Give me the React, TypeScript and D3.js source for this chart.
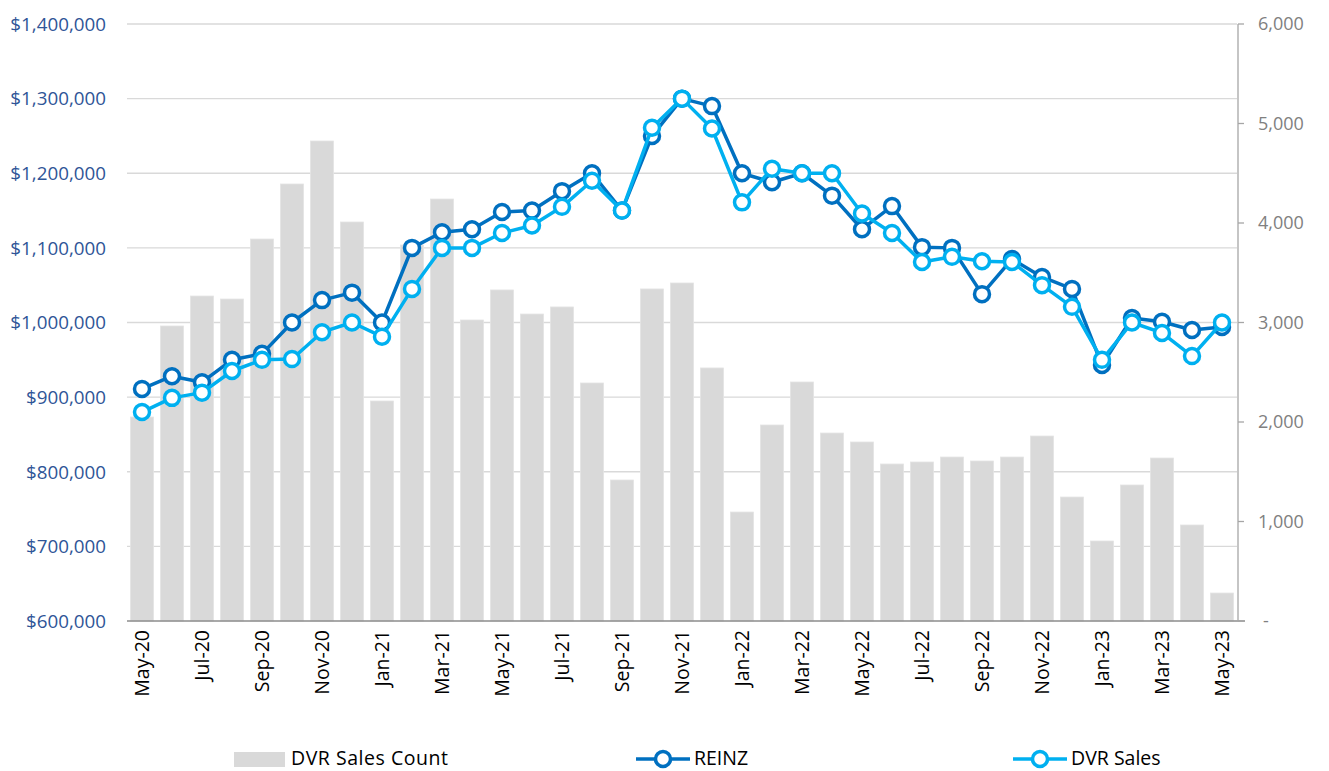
import React from 'react';
import * as d3 from 'd3';

const months = [
  'May-20', 'Jun-20', 'Jul-20', 'Aug-20', 'Sep-20', 'Oct-20', 'Nov-20', 'Dec-20',
  'Jan-21', 'Feb-21', 'Mar-21', 'Apr-21', 'May-21', 'Jun-21', 'Jul-21', 'Aug-21',
  'Sep-21', 'Oct-21', 'Nov-21', 'Dec-21', 'Jan-22', 'Feb-22', 'Mar-22', 'Apr-22',
  'May-22', 'Jun-22', 'Jul-22', 'Aug-22', 'Sep-22', 'Oct-22', 'Nov-22', 'Dec-22',
  'Jan-23', 'Feb-23', 'Mar-23', 'Apr-23', 'May-23',
];

const salesCount = [
  2050, 2965, 3266, 3236, 3839, 4392, 4824, 4010,
  2211, 3779, 4241, 3025, 3327, 3085, 3156, 2392,
  1417, 3337, 3397, 2543, 1095, 1970, 2402, 1889,
  1799, 1578, 1598, 1648, 1608, 1648, 1859, 1246,
  804, 1367, 1638, 965, 281,
];

const reinz = [
  911000, 928000, 920000, 950000, 958000, 1000000, 1030000, 1040000,
  1000000, 1100000, 1121000, 1125000, 1148000, 1150000, 1176000, 1200000,
  1150000, 1250000, 1300000, 1290000, 1200000, 1188000, 1200000, 1170000,
  1125000, 1156000, 1101000, 1100000, 1038000, 1085000, 1061000, 1045000,
  943000, 1006000, 1001000, 990000, 994000,
];

const dvrSales = [
  880000, 899000, 906000, 935000, 950000, 951000, 987000, 1000000,
  981000, 1045000, 1100000, 1100000, 1120000, 1130000, 1155000, 1190000,
  1150000, 1261000, 1300000, 1260000, 1161000, 1206000, 1200000, 1200000,
  1146000, 1120000, 1081000, 1088000, 1082000, 1081000, 1050000, 1021000,
  950000, 1000000, 986000, 955000, 1000000,
];

const leftTicks = [600000, 700000, 800000, 900000, 1000000, 1100000, 1200000, 1300000, 1400000];
const rightTicks = [0, 1000, 2000, 3000, 4000, 5000, 6000];

const W = 1329;
const H = 771;
const margin = { top: 24, right: 92, bottom: 150, left: 127 };

const REINZ_COLOR = '#0070C0';
const DVR_COLOR = '#00B0F0';
const BAR_COLOR = '#D9D9D9';
const FONT = '"Open Sans", "Noto Sans", sans-serif';

export default function App() {
  const x = d3.scaleBand<string>()
    .domain(months)
    .range([margin.left, W - margin.right])
    .paddingInner(0.23)
    .paddingOuter(0.115);

  const yLeft = d3.scaleLinear()
    .domain([600000, 1400000])
    .range([H - margin.bottom, margin.top]);

  const yRight = d3.scaleLinear()
    .domain([0, 6000])
    .range([H - margin.bottom, margin.top]);

  const cx = (m: string) => (x(m) ?? 0) + x.bandwidth() / 2;
  const money = (v: number) => '$' + d3.format(',')(v);
  const count = (v: number) => (v === 0 ? '-' : d3.format(',')(v));

  const line = d3.line<number>()
    .x((_, i) => cx(months[i]))
    .y(d => yLeft(d));

  const plotRight = W - margin.right;
  const plotBottom = H - margin.bottom;

  const series = [
    { name: 'REINZ', values: reinz, color: REINZ_COLOR },
    { name: 'DVR Sales', values: dvrSales, color: DVR_COLOR },
  ];

  return (
    <svg width={W} height={H} style={{ position: 'absolute', left: 0, top: 0, background: '#fff' }}>
      {/* gridlines */}
      {leftTicks.slice(1).map(t => (
        <line key={t} x1={margin.left} x2={plotRight} y1={yLeft(t)} y2={yLeft(t)}
          stroke="#D9D9D9" strokeWidth={1.3} />
      ))}

      {/* bars */}
      {salesCount.map((v, i) => (
        <rect key={months[i]} x={x(months[i])} y={yRight(v)} width={x.bandwidth()}
          height={plotBottom - yRight(v)} fill={BAR_COLOR} stroke="#E4E4E4" strokeWidth={0.8} />
      ))}

      {/* axes lines */}
      <line x1={margin.left} x2={plotRight + 8} y1={plotBottom} y2={plotBottom} stroke="#8C8C8C" strokeWidth={1.5} />
      <line x1={plotRight + 1} x2={plotRight + 1} y1={margin.top} y2={plotBottom} stroke="#A6A6A6" strokeWidth={1.3} />
      {rightTicks.map(t => (
        <line key={t} x1={plotRight + 1} x2={plotRight + 7} y1={yRight(t)} y2={yRight(t)} stroke="#A6A6A6" strokeWidth={1.3} />
      ))}

      {/* left tick labels */}
      {leftTicks.map(t => (
        <text key={t} x={106} y={yLeft(t)} dy="0.36em" textAnchor="end"
          fontFamily={FONT} fontSize={18.8} fill="#2F5597">{money(t)}</text>
      ))}

      {/* right tick labels */}
      {rightTicks.map(t => (
        <text key={t} x={t === 0 ? 1263 : 1258} y={yRight(t)} dy="0.36em" textAnchor="start"
          fontFamily={FONT} fontSize={18} fill="#808080">{count(t)}</text>
      ))}

      {/* x tick labels */}
      {months.filter((_, i) => i % 2 === 0).map(m => (
        <text key={m} transform={`translate(${cx(m)},${plotBottom + 9}) rotate(-90)`}
          dy="0.36em" textAnchor="end" fontFamily={FONT} fontSize={19.5} fill="#000">{m}</text>
      ))}

      {/* lines */}
      {series.map(s => (
        <g key={s.name}>
          <path d={line(s.values) ?? ''} fill="none" stroke={s.color} strokeWidth={3.5} strokeLinejoin="round" />
          {s.values.map((v, i) => (
            <circle key={i} cx={cx(months[i])} cy={yLeft(v)} r={7.5} fill="#fff" stroke={s.color} strokeWidth={3.5} />
          ))}
        </g>
      ))}

      {/* legend */}
      <g fontFamily={FONT} fontSize={19.5} fill="#000">
        <rect x={234} y={752} width={51} height={15} fill={BAR_COLOR} />
        <text x={291} y={758} dy="0.36em" textLength={157}>DVR Sales Count</text>

        <line x1={636} x2={690} y1={759} y2={759} stroke={REINZ_COLOR} strokeWidth={3.5} />
        <circle cx={663} cy={759} r={7.5} fill="#fff" stroke={REINZ_COLOR} strokeWidth={3.5} />
        <text x={694} y={758} dy="0.36em">REINZ</text>

        <line x1={1013} x2={1067} y1={759} y2={759} stroke={DVR_COLOR} strokeWidth={3.5} />
        <circle cx={1040} cy={759} r={7.5} fill="#fff" stroke={DVR_COLOR} strokeWidth={3.5} />
        <text x={1071} y={758} dy="0.36em">DVR Sales</text>
      </g>
    </svg>
  );
}
